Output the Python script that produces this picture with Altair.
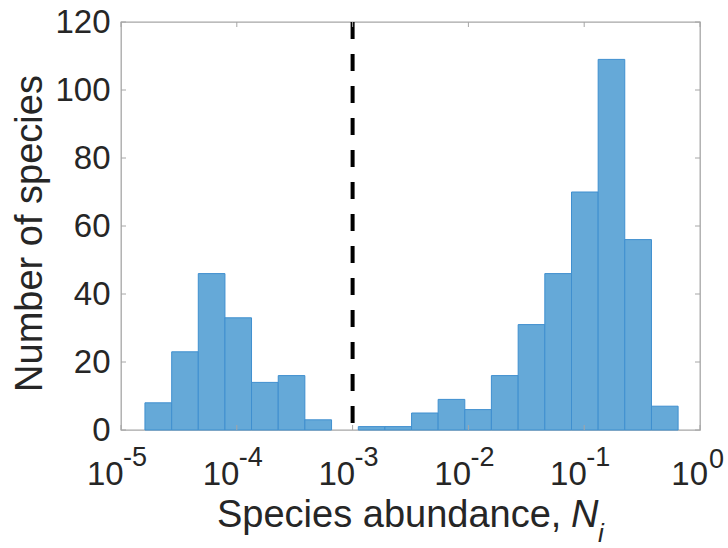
import altair as alt
import pandas as pd

# ---- data ----
bin_edges = [1.61e-5, 2.74e-5, 4.65e-5, 7.90e-5, 1.34e-4, 2.28e-4, 3.87e-4,
             6.58e-4, 1.12e-3, 1.90e-3, 3.23e-3, 5.48e-3, 9.31e-3, 1.58e-2,
             2.69e-2, 4.57e-2, 7.77e-2, 1.32e-1, 2.24e-1, 3.81e-1, 6.47e-1]
counts = [8, 23, 46, 33, 14, 16, 3, 0, 1, 1, 5, 9, 6, 16, 31, 46, 70, 109, 56, 7]
x_ticks = [1e-5, 1e-4, 1e-3, 1e-2, 1e-1, 1.0]
x_exponents = ["-5", "-4", "-3", "-2", "-1", "0"]
y_ticks = [0, 20, 40, 60, 80, 100, 120]
threshold = [1e-3]

W, H = 579, 408
FONT = "Liberation Sans"
TXT = "#262626"
GRID = "#a6a6a6"
FILL = "#65a9d8"
EDGE = "#3f8fcf"

bars = pd.DataFrame({"lo": bin_edges[:-1], "hi": bin_edges[1:], "count": counts})
xt = pd.DataFrame({"value": x_ticks, "exp": x_exponents})
yt = pd.DataFrame({"value": y_ticks})
th = pd.DataFrame({"value": threshold})

xscale = alt.Scale(type="log", domain=[1e-5, 1], nice=False)
yscale = alt.Scale(domain=[0, 120], nice=False)

hist = alt.Chart(bars).transform_filter("datum.count > 0").mark_rect(
    fill=FILL, stroke=EDGE, strokeWidth=1
).encode(
    x=alt.X("lo:Q", scale=xscale,
            axis=alt.Axis(labels=False, ticks=False, domain=False, grid=False, title=None)),
    x2="hi:Q",
    y=alt.Y("count:Q", scale=yscale,
            axis=alt.Axis(values=y_ticks, labelFontSize=33, labelFont=FONT, labelColor=TXT,
                          labelPadding=11, ticks=False, tickSize=0, domain=False, grid=False,
                          title="Number of species", titleFont=FONT, titleFontSize=38,
                          titleFontWeight="normal", titleColor=TXT, titlePadding=5,
                          titleY=211)),
    y2=alt.datum(0),
)

# inward ticks
xt_bottom = alt.Chart(xt).mark_rule(color=GRID, strokeWidth=1).encode(
    x=alt.X("value:Q", scale=xscale), y=alt.value(H), y2=alt.value(H - 5))
xt_top = alt.Chart(xt).mark_rule(color=GRID, strokeWidth=1).encode(
    x=alt.X("value:Q", scale=xscale), y=alt.value(0), y2=alt.value(5))
yt_left = alt.Chart(yt).mark_rule(color=GRID, strokeWidth=1).encode(
    y=alt.Y("value:Q", scale=yscale), x=alt.value(0), x2=alt.value(5))
yt_right = alt.Chart(yt).mark_rule(color=GRID, strokeWidth=1).encode(
    y=alt.Y("value:Q", scale=yscale), x=alt.value(W - 5), x2=alt.value(W))

# threshold dashed line
dash = alt.Chart(th).mark_rule(color="black", strokeWidth=4, strokeDash=[17, 15]).encode(
    x=alt.X("value:Q", scale=xscale), y=alt.value(0), y2=alt.value(H))

# x tick labels 10^k
neg = "datum.exp != '0'"
pos = "datum.exp == '0'"
base_neg = alt.Chart(xt).transform_filter(neg).mark_text(
    text="10", align="right", baseline="alphabetic", font=FONT, fontSize=33, color=TXT,
    dx=2.6, dy=55).encode(x=alt.X("value:Q", scale=xscale), y=alt.value(H))
base_pos = alt.Chart(xt).transform_filter(pos).mark_text(
    text="10", align="right", baseline="alphabetic", font=FONT, fontSize=33, color=TXT,
    dx=8, dy=55).encode(x=alt.X("value:Q", scale=xscale), y=alt.value(H))
exp_neg = alt.Chart(xt).transform_filter(neg).mark_text(
    align="left", baseline="alphabetic", font=FONT, fontSize=27, color=TXT,
    dx=2, dy=36).encode(x=alt.X("value:Q", scale=xscale), y=alt.value(H), text="exp:N")
exp_pos = alt.Chart(xt).transform_filter(pos).mark_text(
    align="left", baseline="alphabetic", font=FONT, fontSize=27, color=TXT,
    dx=9, dy=38).encode(x=alt.X("value:Q", scale=xscale), y=alt.value(H), text="exp:N")

# x axis title: "Species abundance, N_i"
t1 = alt.Chart(th).mark_text(
    text="Species abundance,", align="left", baseline="alphabetic", font=FONT,
    fontSize=38, color=TXT).encode(x=alt.value(96), y=alt.value(H + 97))
t2 = alt.Chart(th).mark_text(
    text="N", align="left", baseline="alphabetic", font=FONT, fontStyle="italic",
    fontSize=38, color=TXT).encode(x=alt.value(450), y=alt.value(H + 97))
t3 = alt.Chart(th).mark_text(
    text="i", align="left", baseline="alphabetic", font=FONT, fontStyle="italic",
    fontSize=26, color=TXT).encode(x=alt.value(477), y=alt.value(H + 112))

chart = alt.layer(
    hist, dash, xt_bottom, xt_top, yt_left, yt_right,
    base_neg, base_pos, exp_neg, exp_pos, t1, t2, t3
).properties(
    width=W, height=H,
    autosize=alt.AutoSizeParams(type="none"),
    padding={"left": 121, "top": 22, "right": 28, "bottom": 118},
    background="white",
).configure_view(
    stroke=GRID, strokeWidth=1.3
)

chart.save("out.html", embed_options={"renderer": "svg", "actions": False})
